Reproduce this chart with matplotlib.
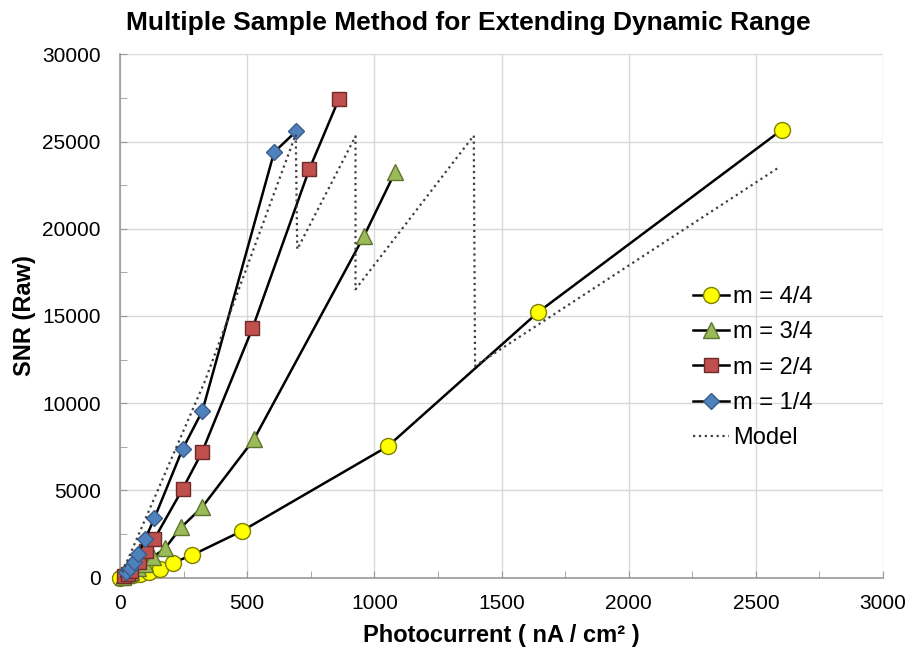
import matplotlib
matplotlib.use('Agg')
import matplotlib.pyplot as plt
from matplotlib.ticker import MultipleLocator

plt.rcParams['font.family'] = ['Liberation Sans', 'DejaVu Sans']

# m = 4/4 (yellow circles)
x_m4 = [0, 25, 50, 80, 113, 158, 210, 283, 480, 1052, 1645, 2603]
y_m4 = [0, 60, 130, 220, 330, 520, 870, 1290, 2680, 7520, 15230, 25680]

# m = 3/4 (green triangles)
x_m3 = [10, 25, 45, 70, 100, 128, 177, 240, 322, 527, 960, 1082]
y_m3 = [50, 150, 300, 550, 800, 1170, 1680, 2880, 4025, 7940, 19600, 23260]

# m = 2/4 (red squares)
x_m2 = [15, 30, 45, 75, 102, 135, 246, 322, 521, 744, 861]
y_m2 = [100, 200, 400, 880, 1545, 2215, 5080, 7180, 14300, 23400, 27450]

# m = 1/4 (blue diamonds)
x_m1 = [25, 40, 55, 72, 99, 135, 246, 324, 606, 693]
y_m1 = [300, 550, 876, 1355, 2215, 3400, 7370, 9560, 24390, 25590]

# model (sawtooth)
x_model = [0, 335, 691, 697, 926, 926, 1391, 1396, 2592]
y_model = [0, 11300, 25400, 18820, 25300, 16530, 25340, 12140, 23530]

fig = plt.figure(figsize=(9.11, 6.51), dpi=100)
ax = fig.add_axes([0.1317, 0.1126, 0.8376, 0.804])

ax.plot(x_m4, y_m4, '-o', color='black', lw=1.8, ms=11.5,
        mfc='#ffff00', mec='#7f7f00', mew=1.0, label='m = 4/4', zorder=3,
        clip_on=False)
ax.plot(x_m3, y_m3, '-^', color='black', lw=1.8, ms=12,
        mfc='#9bbb59', mec='#5f7530', mew=1.0, label='m = 3/4', zorder=4,
        clip_on=False)
ax.plot(x_m2, y_m2, '-s', color='black', lw=1.8, ms=10,
        mfc='#c0504d', mec='#6e2b29', mew=1.0, label='m = 2/4', zorder=5,
        clip_on=False)
ax.plot(x_m1, y_m1, '-D', color='black', lw=1.8, ms=8.5,
        mfc='#4f81bd', mec='#385d8a', mew=1.0, label='m = 1/4', zorder=6,
        clip_on=False)
ax.plot(x_model, y_model, ':', color='#404040', lw=1.6, label='Model', zorder=7)

ax.set_xlim(0, 3000)
ax.set_ylim(0, 30000)
ax.xaxis.set_major_locator(MultipleLocator(500))
ax.xaxis.set_minor_locator(MultipleLocator(250))
ax.yaxis.set_major_locator(MultipleLocator(5000))
ax.yaxis.set_minor_locator(MultipleLocator(2500))

ax.grid(True, which='major', color='#d9d9d9', lw=1.0, zorder=0)
ax.set_axisbelow(True)
for s in ['top', 'right']:
    ax.spines[s].set_visible(False)
for s in ['left', 'bottom']:
    ax.spines[s].set_color('#999999')
    ax.spines[s].set_linewidth(1.2)

ax.tick_params(which='both', direction='in', color='#999999', labelsize=15)
ax.tick_params(which='major', length=5)
ax.tick_params(which='minor', length=5)
ax.tick_params(axis='x', which='major', pad=12)
ax.tick_params(axis='y', which='major', pad=14)

ax.set_xlabel('Photocurrent ( nA / cm² )', fontsize=17, fontweight='bold', labelpad=8)
ax.set_ylabel('SNR (Raw)', fontsize=17, fontweight='bold', labelpad=4)
fig.text(0.5137, 0.954, 'Multiple Sample Method for Extending Dynamic Range',
         fontsize=19, fontweight='bold', ha='center', va='baseline')

ax.legend(loc='upper left', bbox_to_anchor=(0.739, 0.575), frameon=False,
          fontsize=17, handlelength=1.5, handletextpad=0.2, labelspacing=0.56,
          borderaxespad=0)

fig.savefig('out.png', dpi=100)
